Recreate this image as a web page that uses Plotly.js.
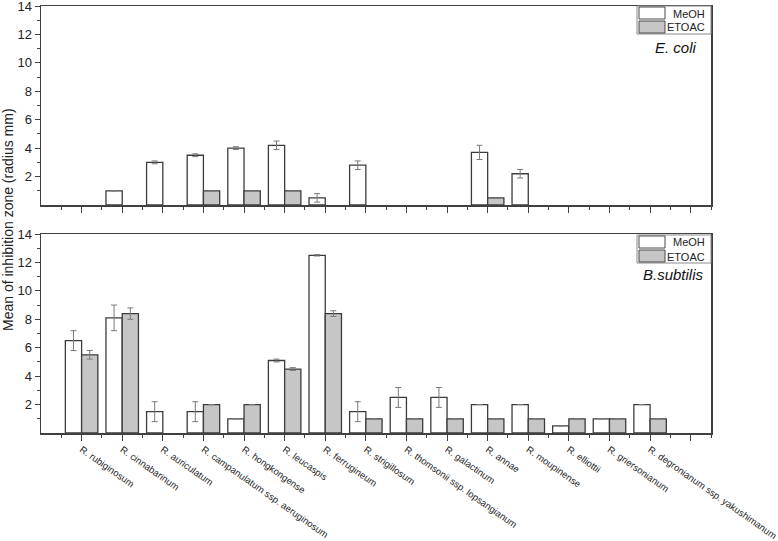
<!DOCTYPE html>
<html>
<head>
<meta charset="utf-8">
<script src="https://cdn.plot.ly/plotly-3.0.1.min.js"></script>
<style>
  html, body { margin: 0; padding: 0; background: #fff; }
  #chart { width: 778px; height: 541px; }
</style>
</head>
<body>
<div id="chart"></div>
<script>
// species on the x axis (last major tick has no label)
const species = [
  'R. rubiginosum', 'R. cinnabarinum', 'R. auriculatum', 'R. campanulatum ssp. aeruginosum',
  'R. hongkongense', 'R. leucaspis', 'R. ferrugineum', 'R. strigillosum',
  'R. thomsonii ssp. lopsangianum', 'R. galactinum', 'R. annae', 'R. moupinense',
  'R. elliottii', 'R. griersonianum', 'R. degronianum ssp. yakushimanum'
];
const seriesNames = ['MeOH', 'ETOAC'];

// E. coli panel
const ecoliMeOH = [null, 1, 3, 3.5, 4, 4.2, 0.5, 2.8, null, null, 3.7, 2.2, null, null, null];
const ecoliMeOHErr = [null, null, 0.1, 0.1, 0.1, 0.3, 0.3, 0.3, null, null, 0.5, 0.3, null, null, null];
const ecoliEtoac = [null, null, null, 1, 1, 1, null, null, null, null, 0.5, null, null, null, null];

// B. subtilis panel
const bsubMeOH = [6.5, 8.1, 1.5, 1.5, 1, 5.1, 12.5, 1.5, 2.5, 2.5, 2, 2, 0.5, 1, 2];
const bsubMeOHErr = [0.7, 0.9, 0.7, 0.7, null, 0.1, 0.05, 0.7, 0.7, 0.7, null, null, null, null, null];
const bsubEtoac = [5.5, 8.4, null, 2, 2, 4.5, 8.4, 1, 1, 1, 1, 1, 1, 1, 1];
const bsubEtoacErr = [0.3, 0.4, null, null, null, 0.1, 0.2, null, null, null, null, null, null, null, null];

const yTicks = [2, 4, 6, 8, 10, 12, 14];

const W = 778, H = 541;
const M = {l: 41, r: 67, t: 6, b: 108};
const fills = ['#ffffff', '#c6c6c6'];

const xPos = species.map((_, i) => i + 1);
const xTickVals = xPos.concat([species.length + 1]);
const xTickText = species.concat(['']);

const outline = {color: '#3c3c3c', width: 1.3};
const errStyle = arr => ({type: 'data', array: arr, visible: true, color: '#7a7a7a', thickness: 1, width: 3});

function bar(y, err, k, xa, ya) {
  const t = {
    type: 'bar', x: xPos, y: y, name: seriesNames[k], xaxis: xa, yaxis: ya,
    showlegend: false, marker: {color: fills[k], line: outline}
  };
  if (err) t.error_y = errStyle(err);
  return t;
}

const traces = [
  bar(ecoliMeOH, ecoliMeOHErr, 0, 'x', 'y'),
  bar(ecoliEtoac, null, 1, 'x', 'y'),
  bar(bsubMeOH, bsubMeOHErr, 0, 'x2', 'y2'),
  bar(bsubEtoac, bsubEtoacErr, 1, 'x2', 'y2')
];

// pixel -> paper helpers for the boxed legends
const pw = W - M.l - M.r, ph = H - M.t - M.b;
const px = v => (v - M.l) / pw;
const py = v => 1 - (v - M.t) / ph;

const shapes = [];
const annotations = [];
function boxLegend(top) {
  shapes.push({type: 'rect', xref: 'paper', yref: 'paper', x0: px(637), x1: px(711), y0: py(top + 28), y1: py(top),
    line: {color: '#8a8a8a', width: 1}, fillcolor: 'rgba(0,0,0,0)'});
  seriesNames.forEach((name, k) => {
    const r = top + 1 + k * 14;
    shapes.push({type: 'rect', xref: 'paper', yref: 'paper', x0: px(639), x1: px(665), y0: py(r + 12), y1: py(r),
      line: {color: '#4a4a4a', width: 1}, fillcolor: fills[k]});
    annotations.push({text: name, xref: 'paper', yref: 'paper', x: px(707), y: py(r + 6.5), xanchor: 'right',
      yanchor: 'middle', showarrow: false, font: {size: 11, color: '#222'}});
  });
}
boxLegend(6);
boxLegend(235);

annotations.push(
  {text: '<i>E. coli</i>', xref: 'paper', yref: 'paper', x: px(699), y: py(47), xanchor: 'right', yanchor: 'middle',
   showarrow: false, font: {size: 15, color: '#111'}},
  {text: '<i>B.subtilis</i>', xref: 'paper', yref: 'paper', x: px(706), y: py(274), xanchor: 'right', yanchor: 'middle',
   showarrow: false, font: {size: 15, color: '#111'}},
  {text: 'Mean of inhibition zone (radius mm)', xref: 'paper', yref: 'paper', x: px(8), y: py(220),
   xanchor: 'center', yanchor: 'middle', textangle: -90, showarrow: false, font: {size: 14, color: '#222'}}
);

const axLine = {showline: true, mirror: true, linecolor: '#404040', linewidth: 1.5, zeroline: false, showgrid: false};
const xAxisBase = Object.assign({}, axLine, {
  range: [0, species.length + 1.5], tickmode: 'array', tickvals: xTickVals, ticktext: xTickText,
  ticks: 'outside', ticklen: 6, tickcolor: '#404040', tickwidth: 1,
  minor: {tickmode: 'linear', tick0: 0.5, dtick: 1, ticks: 'outside', ticklen: 3, tickcolor: '#404040'},
  automargin: false, ticklabeloverflow: 'allow'
});
const yAxisBase = Object.assign({}, axLine, {
  range: [0, 14], tickmode: 'array', tickvals: yTicks, ticks: 'outside', ticklen: 5,
  tickcolor: '#404040', tickfont: {size: 13, color: '#222'},
  minor: {tickmode: 'linear', tick0: 1, dtick: 2, ticks: 'outside', ticklen: 3, tickcolor: '#404040'},
  automargin: false, ticklabeloverflow: 'allow'
});

const layout = {
  width: W, height: H,
  margin: M,
  paper_bgcolor: '#fff', plot_bgcolor: '#fff',
  font: {family: 'Liberation Sans, Arial, sans-serif', color: '#222'},
  barmode: 'group', bargap: 0.2, bargroupgap: 0,
  xaxis: Object.assign({}, xAxisBase, {anchor: 'y', showticklabels: false}),
  yaxis: Object.assign({}, yAxisBase, {domain: [py(205), 1], anchor: 'x'}),
  xaxis2: Object.assign({}, xAxisBase, {anchor: 'y2', tickangle: 35, tickfont: {size: 9.5, color: '#222'}}),
  yaxis2: Object.assign({}, yAxisBase, {domain: [0, py(234)], anchor: 'x2'}),
  showlegend: false,
  shapes: shapes,
  annotations: annotations
};

Plotly.newPlot('chart', traces, layout, {displayModeBar: false, staticPlot: true});
</script>
</body>
</html>
